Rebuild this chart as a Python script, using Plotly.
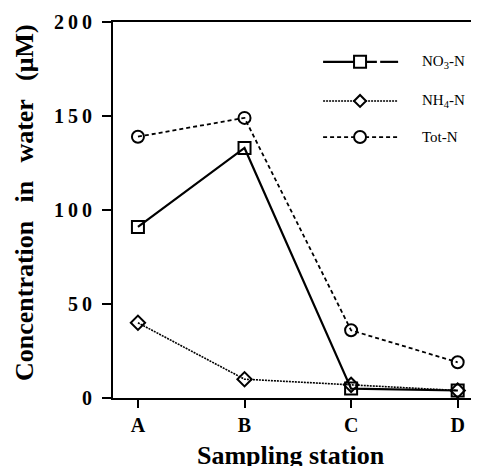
import plotly.graph_objects as go

# Sampling stations and nitrogen concentrations (uM)
stations = ["A", "B", "C", "D"]
no3_n = [91, 133, 5, 4]
nh4_n = [40, 10, 7, 4]
tot_n = [139, 149, 36, 19]

y_ticks = [0, 50, 100, 150, 200]
y_tick_labels = ["0", "5\u20090", "1\u20090\u20090", "1\u20095\u20090", "2\u20090\u20090"]

serif = "Liberation Serif, Times New Roman, serif"
x_pos = list(range(len(stations)))

series = [
    ("NO<sub>3</sub>-N", no3_n, "solid", 2.2, "square-open", 12),
    ("NH<sub>4</sub>-N", nh4_n, "2px,1px", 1.6, "diamond-open", 11),
    ("Tot-N", tot_n, "4px,3px", 1.8, "circle-open", 12),
]

fig = go.Figure()
for name, vals, dash, lw, sym, ms in series:
    fig.add_trace(go.Scatter(
        x=x_pos, y=vals, mode="lines+markers", name=name,
        line=dict(color="black", width=lw, dash=dash),
        marker=dict(symbol=sym, size=ms, color="black", line=dict(width=2, color="black")),
        showlegend=False,
    ))

# hand-drawn legend: line sample, marker glyph, label
leg_y = [0.894, 0.790, 0.694]
lx0, lx1, mx, tx = 0.574, 0.779, 0.675, 0.839
for (name, vals, dash, lw, sym, ms), ly in zip(series, leg_y):
    if dash == "solid":
        segs = [(lx0, 0.721), (0.730, lx1)]
    else:
        segs = [(lx0, lx1)]
    for a, b in segs:
        fig.add_shape(type="line", xref="paper", yref="paper", x0=a, x1=b, y0=ly, y1=ly,
                      line=dict(color="black", width=lw, dash=dash))
    glyph = dict(xref="paper", yref="paper", xsizemode="pixel", ysizemode="pixel",
                 xanchor=mx, yanchor=ly, fillcolor="white", line=dict(color="black", width=2))
    if sym.startswith("square"):
        fig.add_shape(type="rect", x0=-6, x1=6, y0=-6, y1=6, **glyph)
    elif sym.startswith("diamond"):
        fig.add_shape(type="path", path="M -6 0 L 0 6 L 6 0 L 0 -6 Z", **glyph)
    else:
        fig.add_shape(type="circle", x0=-6, x1=6, y0=-6, y1=6, **glyph)
    fig.add_annotation(x=tx, y=ly, xref="paper", yref="paper", text=name, showarrow=False,
                       xanchor="left", yanchor="middle", font=dict(family=serif, size=15, color="black"))

fig.add_annotation(x=-0.240, y=0.519, xref="paper", yref="paper", showarrow=False, textangle=-90,
                   xanchor="center", yanchor="middle",
                   text="Concentration\u2002\u2009in\u2002\u2009water\u2002\u2009(\u03bcM)",
                   font=dict(family=serif, size=26, color="black", weight="bold"))
fig.add_annotation(x=0.486, y=-0.152, xref="paper", yref="paper", showarrow=False,
                   text="Sampling station", xanchor="center", yanchor="middle",
                   font=dict(family=serif, size=26, color="black", weight="bold"))

# page body has an 8px default margin, so the figure is 8px smaller than the window
fig.update_layout(
    width=471, height=458,
    margin=dict(l=105, r=0, t=14, b=68),
    plot_bgcolor="white", paper_bgcolor="white",
    xaxis=dict(range=[-0.234, 3.2], tickvals=x_pos, ticktext=stations, showgrid=False, zeroline=False,
               showline=True, linecolor="black", linewidth=2, mirror=True,
               ticks="outside", ticklen=8, tickwidth=2, tickcolor="black",
               tickfont=dict(family=serif, size=20, color="black", weight="bold")),
    yaxis=dict(range=[0, 200], tickvals=y_ticks, ticktext=y_tick_labels, showgrid=False, zeroline=False,
               showline=True, linecolor="black", linewidth=2,
               ticks="outside", ticklen=9, tickwidth=2, tickcolor="black", ticklabelstandoff=6,
               tickfont=dict(family=serif, size=20, color="black", weight="bold")),
)

fig.write_html("out.html")
